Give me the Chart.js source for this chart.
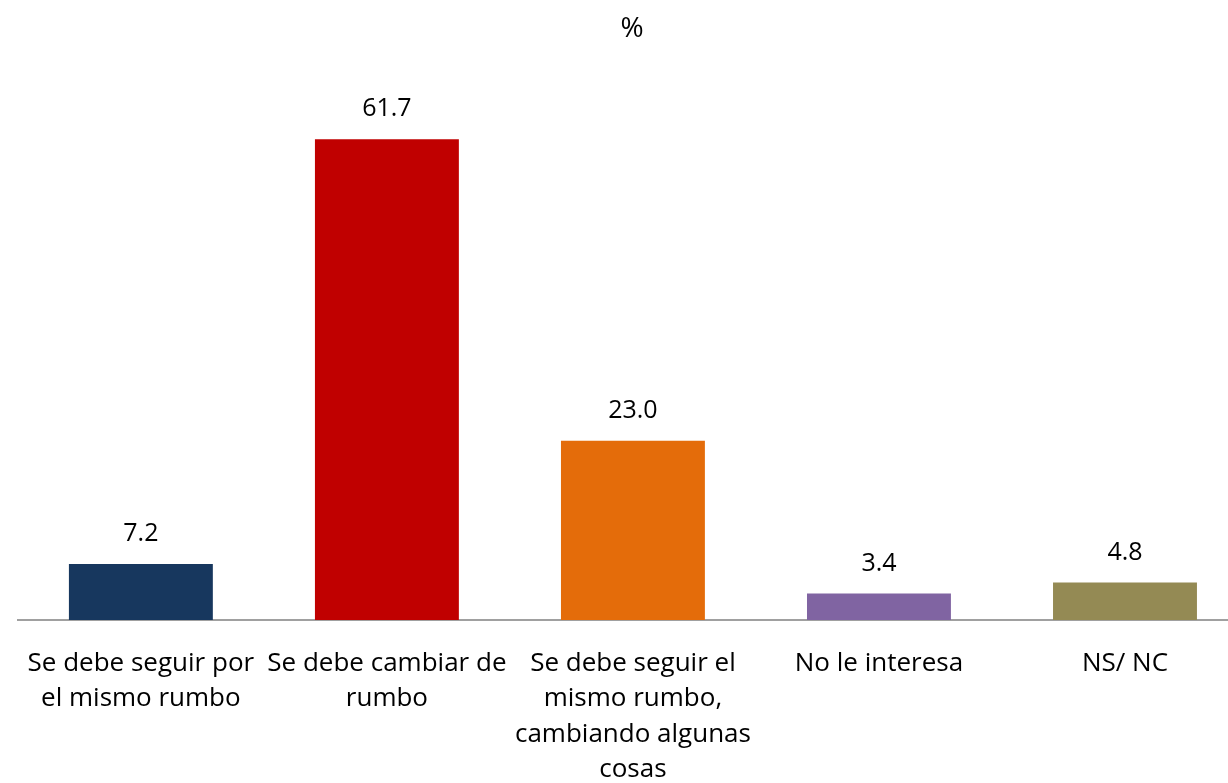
<!DOCTYPE html>
<html>
<head>
<meta charset="utf-8">
<script src="https://cdn.jsdelivr.net/npm/chart.js@4"></script>
<style>
  html, body { margin: 0; padding: 0; background: #fff; overflow: hidden; }
</style>
</head>
<body>
<canvas id="rumboChart" width="1264" height="783"></canvas>
<script>
// Data
const categories = [
    ['Se debe seguir por', 'el mismo rumbo'],
    ['Se debe cambiar de', 'rumbo'],
    ['Se debe seguir el', 'mismo rumbo,', 'cambiando algunas', 'cosas'],
    ['No le interesa'],
    ['NS/ NC']
];
const values = [7.2, 61.7, 23.0, 3.4, 4.8];
const barColors = ['#17375E', '#C00000', '#E46C0A', '#8064A2', '#948A54'];

const FONT = '"Open Sans", Lato, sans-serif';

// value labels above each bar
const valueLabels = {
    id: 'valueLabels',
    afterDatasetsDraw(chart) {
        const ctx = chart.ctx;
        const meta = chart.getDatasetMeta(0);
        ctx.save();
        ctx.font = `25px ${FONT}`;
        ctx.fillStyle = '#000';
        ctx.textAlign = 'center';
        ctx.textBaseline = 'middle';
        meta.data.forEach((bar, i) => {
            ctx.fillText(values[i].toFixed(1), bar.x, bar.y - 30);
        });
        ctx.restore();
    }
};

new Chart(document.getElementById('rumboChart').getContext('2d'), {
    type: 'bar',
    data: {
        labels: categories,
        datasets: [{
            data: values,
            backgroundColor: barColors,
            borderWidth: 0,
            barPercentage: 0.585,
            categoryPercentage: 1
        }]
    },
    options: {
        responsive: false,
        animation: false,
        layout: { padding: { left: 16, right: 16, top: 0, bottom: 0 } },
        plugins: {
            legend: { display: false },
            tooltip: { enabled: false },
            title: {
                display: true,
                text: '%',
                color: '#000',
                font: { family: FONT, size: 28, weight: 'normal' },
                padding: { top: 12, bottom: 29 }
            }
        },
        scales: {
            x: {
                grid: { display: false, drawTicks: false },
                border: { display: true, color: '#A0A0A0', width: 2 },
                ticks: {
                    color: '#000',
                    font: { family: FONT, size: 26, lineHeight: 1.36 },
                    padding: 26,
                    maxRotation: 0,
                    autoSkip: false
                },
                afterFit: s => { s.height = 163; }
            },
            y: {
                display: false,
                min: 0,
                max: 70
            }
        }
    },
    plugins: [valueLabels]
});
</script>
</body>
</html>
